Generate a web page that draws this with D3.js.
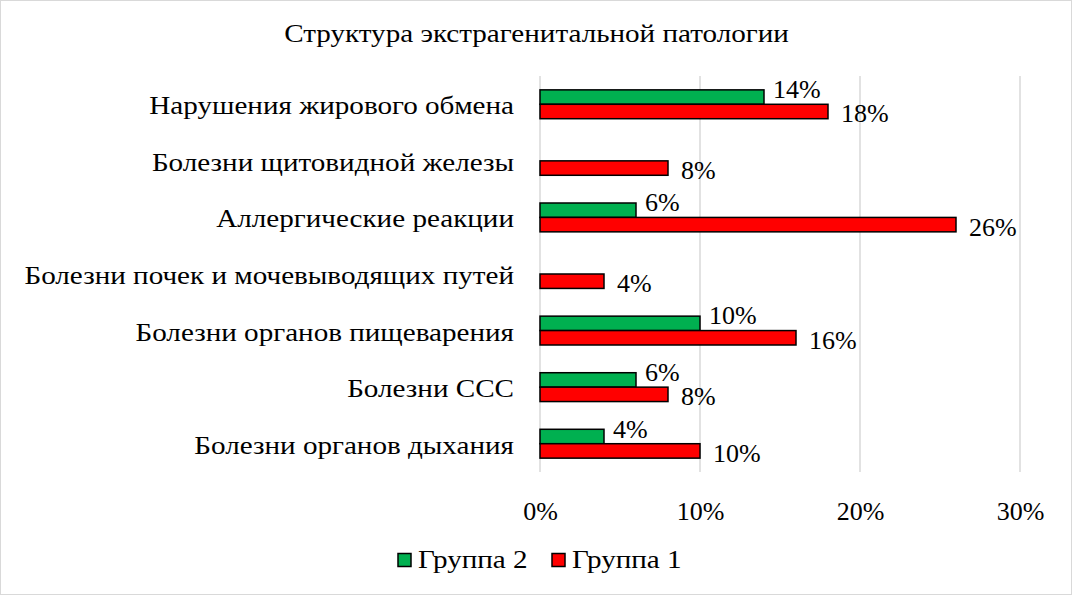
<!DOCTYPE html>
<html>
<head>
<meta charset="utf-8">
<script src="https://cdn.jsdelivr.net/npm/d3@7"></script>
</head>
<body style="margin:0; background:#fff">
<div id="chart"></div>
<script>
// данные
const categories = [
    "Нарушения жирового обмена",
    "Болезни щитовидной железы",
    "Аллергические реакции",
    "Болезни почек и мочевыводящих путей",
    "Болезни органов пищеварения",
    "Болезни ССС",
    "Болезни органов дыхания"
];
const group2 = [14, 0, 6, 0, 10, 6, 4];
const group1 = [18, 8, 26, 4, 16, 8, 10];
const xTicks = [0, 10, 20, 30];
const seriesNames = ["Группа 2", "Группа 1"];
const seriesColors = ["#00b050", "#ff0000"];
const title = "Структура экстрагенитальной патологии";

const width = 1072, height = 595;
const margin = { top: 76, right: 52, bottom: 123, left: 540 };
const font = "'Liberation Serif', serif";
const stretch = 1.165; // буквы в оригинале шире

const svg = d3.select("#chart")
    .append("svg")
    .attr("width", width)
    .attr("height", height)
    .attr("font-family", font);

svg.append("rect")
    .attr("x", 0.5).attr("y", 0.5)
    .attr("width", width - 1).attr("height", height - 1)
    .attr("fill", "#fff")
    .attr("stroke", "#d9d9d9");

const x = d3.scaleLinear()
    .domain([0, 30])
    .range([margin.left, width - margin.right]);

const y = d3.scaleBand()
    .domain(categories)
    .range([margin.top, height - margin.bottom])
    .paddingInner(0.49)
    .paddingOuter(0.245);

const sub = d3.scaleBand()
    .domain(seriesNames)
    .range([0, y.bandwidth()]);

// растянутый текст
function wide(sel, px, py, anchor) {
    return sel.attr("transform", `translate(${px},${py}) scale(${stretch},1)`)
        .attr("text-anchor", anchor)
        .attr("font-size", 25);
}

// заголовок
svg.append("text")
    .call(wide, 536.5, 42, "middle")
    .text(title);

// сетка
svg.append("g")
    .selectAll("line")
    .data(xTicks)
    .join("line")
    .attr("x1", d => x(d)).attr("x2", d => x(d))
    .attr("y1", margin.top).attr("y2", height - margin.bottom)
    .attr("stroke", "#d9d9d9")
    .attr("stroke-width", 1.5);

// ось X
const xAxis = g => g
    .attr("transform", `translate(0,${height - margin.bottom + 27})`)
    .call(d3.axisBottom(x).tickValues(xTicks).tickFormat(d => d + "%").tickSize(0))
    .call(g => g.select(".domain").remove())
    .call(g => g.attr("font-family", font))
    .call(g => g.selectAll("text")
        .attr("font-size", 26)
        .attr("fill", "#000")
        .attr("dy", "0.71em"));
svg.append("g").call(xAxis);

// подписи категорий
svg.append("g")
    .selectAll("text")
    .data(categories)
    .join("text")
    .each(function (d) {
        d3.select(this).call(wide, 514, y(d) + y.bandwidth() / 2, "end");
    })
    .attr("dy", "0.4em")
    .text(d => d);

const rows = categories.map((c, i) => ({ c, v: [group2[i], group1[i]] }));

// столбцы
const rowG = svg.append("g")
    .selectAll("g")
    .data(rows)
    .join("g")
    .attr("transform", d => `translate(0,${y(d.c)})`);

rowG.selectAll("rect")
    .data(d => d.v.map((v, k) => ({ v, k })).filter(e => e.v > 0))
    .join("rect")
    .attr("x", x(0))
    .attr("y", e => sub(seriesNames[e.k]))
    .attr("width", e => x(e.v) - x(0))
    .attr("height", sub.bandwidth())
    .attr("fill", e => seriesColors[e.k])
    .attr("stroke", "#000")
    .attr("stroke-width", 1.5);

// подписи значений
rowG.selectAll("text")
    .data(d => d.v.map((v, k) => ({ v, k })).filter(e => e.v > 0))
    .join("text")
    .attr("x", e => x(e.v) + (e.k === 0 ? 9 : 13))
    .attr("y", e => sub(seriesNames[e.k]) + sub.bandwidth() / 2 + (e.k === 0 ? 1 : 11))
    .attr("font-size", 26)
    .text(e => e.v + "%");

// легенда
const legend = svg.append("g")
    .attr("transform", "translate(398,560)");
const legendX = [0, 154];
seriesNames.forEach((name, k) => {
    const g = legend.append("g").attr("transform", `translate(${legendX[k]},0)`);
    g.append("rect")
        .attr("x", 0).attr("y", -6.5)
        .attr("width", 13).attr("height", 13)
        .attr("fill", seriesColors[k])
        .attr("stroke", "#000")
        .attr("stroke-width", 1.5);
    g.append("text")
        .call(wide, 20, 0, "start")
        .attr("dy", "0.3em")
        .text(name);
});
</script>
</body>
</html>
